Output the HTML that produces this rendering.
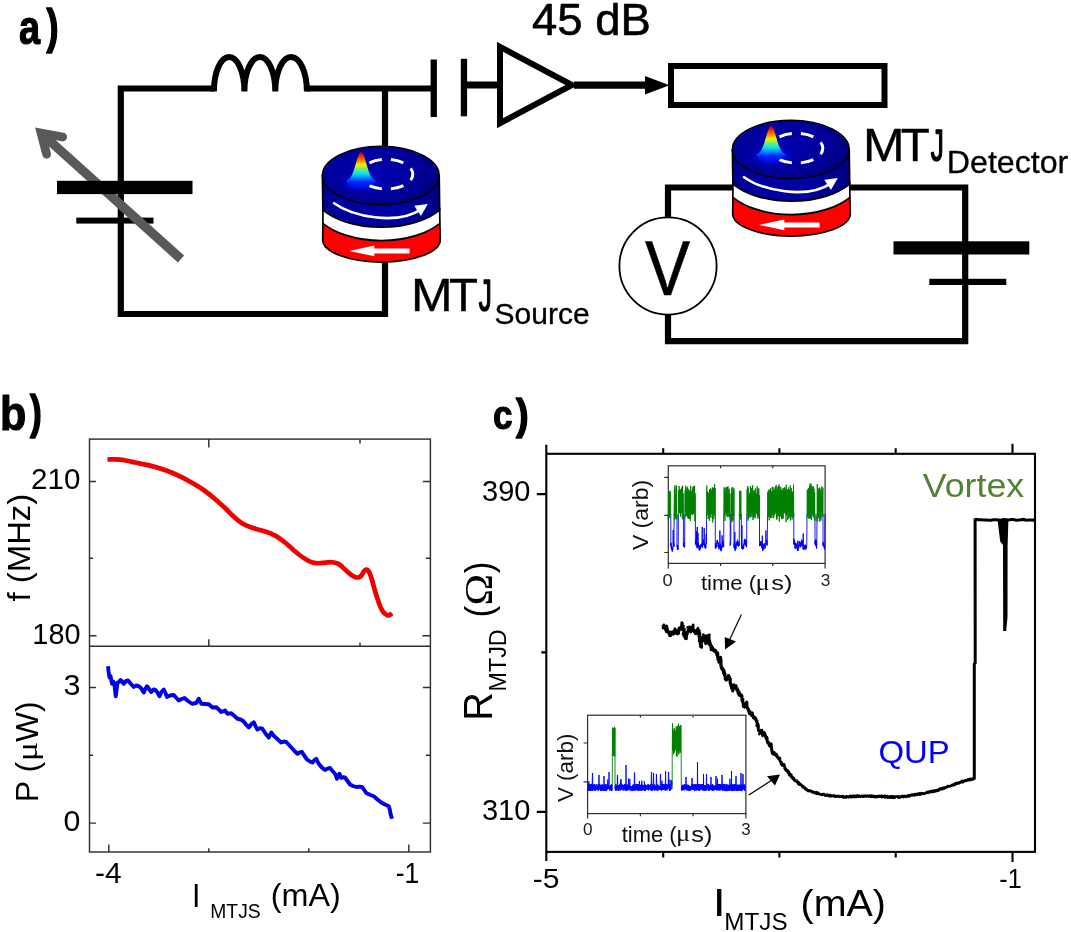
<!DOCTYPE html>
<html><head><meta charset="utf-8"><title>Figure</title>
<style>
html,body{margin:0;padding:0;background:#fff;}
body{width:1071px;height:932px;overflow:hidden;font-family:"Liberation Sans",sans-serif;}
svg{display:block;will-change:transform;}
</style></head><body>
<svg width="1071" height="932" viewBox="0 0 1071 932">
<rect width="1071" height="932" fill="#fff"/>
<defs>
<linearGradient id="jet" gradientUnits="userSpaceOnUse" x1="0" y1="152" x2="0" y2="188">
<stop offset="0" stop-color="#b00000"/><stop offset="0.083" stop-color="#f01000"/><stop offset="0.222" stop-color="#ff8000"/>
<stop offset="0.361" stop-color="#f0f000"/><stop offset="0.486" stop-color="#60f080"/><stop offset="0.611" stop-color="#00e0f0"/>
<stop offset="0.722" stop-color="#0080ff"/><stop offset="0.833" stop-color="#0028ff"/><stop offset="1" stop-color="#0010e0" stop-opacity="0"/>
</linearGradient>
<radialGradient id="glow" cx="0.5" cy="0.5" r="0.5">
<stop offset="0" stop-color="#0030ff" stop-opacity="1"/><stop offset="0.4" stop-color="#0018f8" stop-opacity="0.85"/><stop offset="0.75" stop-color="#0008d8" stop-opacity="0.4"/><stop offset="1" stop-color="#0000b0" stop-opacity="0"/>
</radialGradient>
<radialGradient id="topg" cx="0.42" cy="0.45" r="0.62">
<stop offset="0" stop-color="#0000ac"/><stop offset="0.6" stop-color="#00009e"/><stop offset="1" stop-color="#00007c"/>
</radialGradient>
<linearGradient id="sideg" x1="0" y1="0" x2="1" y2="0">
<stop offset="0" stop-color="#000088"/><stop offset="0.12" stop-color="#0000a0"/><stop offset="0.6" stop-color="#0000a4"/><stop offset="0.92" stop-color="#000090"/><stop offset="1" stop-color="#000078"/>
</linearGradient>
<filter id="soft" x="-20%" y="-20%" width="140%" height="140%"><feGaussianBlur stdDeviation="0.55"/></filter>
<g id="mtj">
<path d="M322.9,224 L322.7,239.8 A58.8,22.3 0 0 0 440.3,239.8 L439.9,224 Z" fill="#ff0000" stroke="#000" stroke-width="1.7"/>
<path d="M322.9,209 L322.9,223.3 A70.9,39.75 0 0 0 439.9,223.3 L439.7,209 Z" fill="#fff" stroke="#000" stroke-width="1.7"/>
<path d="M322.4,175.5 L322.9,210.05 A70.9,39.75 0 0 0 439.7,210.05 L439.2,175.5 Z" fill="url(#sideg)" stroke="#000" stroke-width="1.7"/>
<ellipse cx="380.8" cy="175.5" rx="58.4" ry="29.2" fill="url(#topg)" stroke="#000" stroke-width="1.5"/>
<ellipse cx="361.8" cy="182.3" rx="24" ry="11.5" fill="url(#glow)"/>
<ellipse cx="386.4" cy="174.2" rx="26.4" ry="14.9" fill="none" stroke="#fff" stroke-width="3" stroke-dasharray="12.8 9.25" stroke-dashoffset="6.4" pathLength="132.3"/>
<path d="M346.10,180.55 L346.73,180.36 L347.35,180.12 L347.98,179.80 L348.60,179.39 L349.23,178.86 L349.85,178.21 L350.48,177.40 L351.10,176.44 L351.73,175.29 L352.35,173.96 L352.98,172.44 L353.60,170.75 L354.23,168.90 L354.85,166.92 L355.48,164.85 L356.10,162.73 L356.73,160.64 L357.35,158.64 L357.98,156.79 L358.60,155.17 L359.23,153.83 L359.85,152.83 L360.48,152.21 L361.10,152.00 L361.73,152.21 L362.35,152.83 L362.98,153.83 L363.60,155.17 L364.23,156.79 L364.85,158.64 L365.48,160.64 L366.10,162.73 L366.73,164.85 L367.35,166.92 L367.98,168.90 L368.60,170.75 L369.23,172.44 L369.85,173.96 L370.48,175.29 L371.10,176.44 L371.73,177.40 L372.35,178.21 L372.98,178.86 L373.60,179.39 L374.23,179.80 L374.85,180.12 L375.48,180.36 L376.10,180.55 C371.1,190.0 351.1,190.0 346.10,180.55 Z" fill="url(#jet)" filter="url(#soft)"/>
<path d="M334.1,203.2 C352,216 396,226 421,209.3" fill="none" stroke="#fff" stroke-width="2.6" stroke-linecap="round"/>
<path d="M427.8,204 L414.3,205.8 L420.9,216 Z" fill="#fff"/>
<path d="M349.1,250.9 L374.3,245.6 L374.3,248.4 L409.6,248.4 L409.6,253.5 L374.3,253.5 L374.3,256.2 Z" fill="#fff"/>
</g>
</defs>
<path d="M214,88.5 L120.8,88.5 L120.8,314 L385,314 L385,258" stroke="#000" fill="none" stroke-width="6.2"/>
<path d="M307,88.5 L431,88.5 M385,88.5 L385,150" stroke="#000" fill="none" stroke-width="6.2"/>
<path d="M213.9,91.4 A15.25,34.4 0 0 1 244.4,91.4 A15.45,34.4 0 0 1 275.3,91.4 A15.80,34.4 0 0 1 306.9,91.4" stroke="#000" fill="none" stroke-width="6" stroke-linejoin="bevel"/>
<rect x="76.3" y="217.6" width="77.2" height="6" fill="#000"/>
<path d="M41.1,133.1 L181,259" stroke="#595959" stroke-width="9.3" fill="none"/>
<path d="M62.7,137 L41.1,133.1 L46.6,154.2" stroke="#595959" stroke-width="8.8" fill="none" stroke-linecap="round" stroke-linejoin="miter" stroke-miterlimit="10"/>
<rect x="57" y="180.8" width="135.5" height="13.3" fill="#000"/>
<rect x="430.6" y="59.5" width="6.3" height="57.5" fill="#000"/>
<rect x="460.8" y="58.8" width="6.3" height="57.5" fill="#000"/>
<path d="M467,85 L500,85" stroke="#000" fill="none" stroke-width="6.8"/>
<path d="M500,46.8 L572,85 L500,123.2 Z" stroke="#000" fill="none" stroke-width="6" stroke-linejoin="miter"/>
<path d="M574,85.2 L650,85.2" stroke="#000" fill="none" stroke-width="7.2"/>
<path d="M645,76 L669.5,85.3 L645,94.6 Z" fill="#000"/>
<rect x="671" y="66" width="213.5" height="39" stroke="#000" fill="none" stroke-width="6"/>
<path d="M736,187.5 L668,187.5 L668,341.2 L965.2,341.2 L965.2,187.5 L846,187.5" stroke="#000" fill="none" stroke-width="6.2"/>
<circle cx="668" cy="266" r="48.6" fill="#fff" stroke="#000" stroke-width="1.8"/>
<rect x="893.5" y="241.3" width="135.8" height="13.2" fill="#000"/>
<rect x="929.3" y="278.8" width="77" height="6.2" fill="#000"/>
<use href="#mtj"/>
<use href="#mtj" transform="translate(410,-26)"/>
<text transform="matrix(0.37934 0 0 0.47306 19.01 44.38)" font-family="Liberation Sans" font-weight="bold" font-size="100" fill="#000"  stroke="#000" stroke-width="2.58" stroke-linejoin="round">a</text>
<text transform="matrix(0.36071 0 0 0.47185 46.61 43.21)" font-family="Liberation Sans" font-weight="bold" font-size="100" fill="#000"  stroke="#000" stroke-width="3.36" stroke-linejoin="round">)</text>
<text transform="matrix(0.45472 0 0 0.45306 532.08 35.15)" font-family="Liberation Sans" font-weight="normal" font-size="100" fill="#000"  stroke="#000" stroke-width="1.32" stroke-linejoin="round">45 dB</text>
<text transform="matrix(0.49888 0 0 0.46255 411.08 311.30)" font-family="Liberation Sans" font-weight="normal" font-size="100" fill="#000"  stroke="#000" stroke-width="0.83" stroke-linejoin="round">M</text>
<text transform="matrix(0.47434 0 0 0.46255 448.93 311.30)" font-family="Liberation Sans" font-weight="normal" font-size="100" fill="#000"  stroke="#000" stroke-width="0.85" stroke-linejoin="round">T</text>
<text transform="matrix(0.26098 0 0 0.44875 478.86 310.80)" font-family="Liberation Sans" font-weight="normal" font-size="100" fill="#000"  stroke="#000" stroke-width="3.66" stroke-linejoin="round">J</text>
<text transform="matrix(0.49888 0 0 0.46255 862.88 161.10)" font-family="Liberation Sans" font-weight="normal" font-size="100" fill="#000"  stroke="#000" stroke-width="0.83" stroke-linejoin="round">M</text>
<text transform="matrix(0.47434 0 0 0.46255 900.73 161.10)" font-family="Liberation Sans" font-weight="normal" font-size="100" fill="#000"  stroke="#000" stroke-width="0.85" stroke-linejoin="round">T</text>
<text transform="matrix(0.26098 0 0 0.44875 930.66 160.60)" font-family="Liberation Sans" font-weight="normal" font-size="100" fill="#000"  stroke="#000" stroke-width="3.66" stroke-linejoin="round">J</text>
<text transform="matrix(0.30000 0 0 0.30389 494.60 323.85)" font-family="Liberation Sans" font-weight="normal" font-size="100" fill="#000"  stroke="#000" stroke-width="0.99" stroke-linejoin="round">Source</text>
<text transform="matrix(0.32152 0 0 0.31111 946.80 173.14)" font-family="Liberation Sans" font-weight="normal" font-size="100" fill="#000"  stroke="#000" stroke-width="0.95" stroke-linejoin="round">Detector</text>
<text transform="matrix(0.67681 0 0 0.77382 644.91 294.75)" font-family="Liberation Sans" font-weight="normal" font-size="100" fill="#000"  stroke="#000" stroke-width="0.69" stroke-linejoin="round">V</text>
<g stroke="#303030" stroke-width="1.45" fill="none">
<rect x="89.5" y="439.1" width="340.9" height="412.9"/>
<path d="M89.5,646.2 L430.4,646.2"/>
<path d="M89.5,481.4 h6.5 M430.4,481.4 h-7.5 M89.5,558.3 h3.5 M430.4,558.3 h-4.5 M89.5,635.8 h7 M430.4,635.8 h-8 M89.5,687.4 h6.5 M430.4,687.4 h-7.5 M89.5,755.2 h3.5 M430.4,755.2 h-4.5 M89.5,823.1 h6.5 M430.4,823.1 h-7.5 M208.8,439.1 v8.5 M360,439.1 v4.5 M208.8,646.2 v-7 M360,646.2 v-3.5 M108.8,852.0 v-7.5 M208.8,852.0 v-3.8 M308.8,852.0 v-3.8 M408.8,852.0 v-7.5"/>
</g>
<path d="M107.50,459.30 C108.42,459.30 110.92,459.25 113.00,459.30 C115.08,459.35 117.67,459.35 120.00,459.60 C122.33,459.85 124.50,460.32 127.00,460.80 C129.50,461.28 131.17,461.70 135.00,462.50 C138.83,463.30 145.00,464.35 150.00,465.60 C155.00,466.85 160.00,468.22 165.00,470.00 C170.00,471.78 175.00,473.88 180.00,476.30 C185.00,478.72 190.83,482.05 195.00,484.50 C199.17,486.95 201.67,488.58 205.00,491.00 C208.33,493.42 211.67,496.17 215.00,499.00 C218.33,501.83 222.08,505.25 225.00,508.00 C227.92,510.75 230.33,513.45 232.50,515.50 C234.67,517.55 236.12,518.85 238.00,520.30 C239.88,521.75 241.75,523.08 243.75,524.20 C245.75,525.32 247.62,526.12 250.00,527.00 C252.38,527.88 255.08,528.62 258.00,529.50 C260.92,530.38 265.00,531.45 267.50,532.30 C270.00,533.15 271.33,533.82 273.00,534.60 C274.67,535.38 275.50,535.68 277.50,537.00 C279.50,538.32 282.92,540.87 285.00,542.50 C287.08,544.13 288.33,545.33 290.00,546.80 C291.67,548.27 293.42,549.93 295.00,551.30 C296.58,552.67 298.04,553.88 299.50,555.00 C300.96,556.12 302.33,557.07 303.75,558.00 C305.17,558.93 306.54,559.87 308.00,560.60 C309.46,561.33 311.17,561.98 312.50,562.40 C313.83,562.82 314.75,562.97 316.00,563.10 C317.25,563.23 318.67,563.25 320.00,563.20 C321.33,563.15 322.75,562.93 324.00,562.80 C325.25,562.67 326.33,562.50 327.50,562.40 C328.67,562.30 329.96,562.18 331.00,562.20 C332.04,562.22 332.75,562.32 333.75,562.50 C334.75,562.68 335.96,562.88 337.00,563.30 C338.04,563.72 339.00,564.30 340.00,565.00 C341.00,565.70 341.96,566.57 343.00,567.50 C344.04,568.43 345.17,569.60 346.25,570.60 C347.33,571.60 348.46,572.63 349.50,573.50 C350.54,574.37 351.50,575.18 352.50,575.80 C353.50,576.42 354.46,576.93 355.50,577.20 C356.54,577.47 357.83,577.60 358.75,577.40 C359.67,577.20 360.32,576.70 361.00,576.00 C361.68,575.30 362.25,574.07 362.80,573.20 C363.35,572.33 363.77,571.40 364.30,570.80 C364.83,570.20 365.45,569.73 366.00,569.60 C366.55,569.47 367.10,569.60 367.60,570.00 C368.10,570.40 368.52,571.12 369.00,572.00 C369.48,572.88 370.00,573.97 370.50,575.30 C371.00,576.63 371.46,578.17 372.00,580.00 C372.54,581.83 373.17,584.22 373.75,586.30 C374.33,588.38 374.88,590.42 375.50,592.50 C376.12,594.58 376.87,596.88 377.50,598.80 C378.13,600.72 378.68,602.37 379.30,604.00 C379.93,605.63 380.63,607.33 381.25,608.60 C381.87,609.87 382.38,610.73 383.00,611.60 C383.62,612.47 384.33,613.23 385.00,613.80 C385.67,614.37 386.38,614.73 387.00,615.00 C387.62,615.27 388.20,615.47 388.75,615.40 C389.30,615.33 389.76,614.97 390.30,614.60 C390.84,614.23 391.72,613.43 392.00,613.20" fill="none" stroke="#f00000" stroke-width="4.7" stroke-linejoin="round" stroke-linecap="butt"/>
<path d="M108.00,666.25 L108.60,672.00 L109.50,677.50 L110.50,676.00 L112.00,683.75 L113.30,681.50 L114.50,685.00 L115.75,696.25 L116.60,690.00 L117.50,682.50 L119.00,682.00 L120.50,680.00 L122.00,681.50 L123.75,683.75 L126.00,681.00 L128.00,680.50 L131.00,684.00 L133.75,687.00 L136.00,685.50 L138.75,686.25 L141.00,688.00 L143.75,692.50 L145.50,688.50 L147.00,686.25 L149.00,689.00 L151.25,692.00 L153.50,689.50 L155.50,690.00 L157.50,692.50 L159.50,696.25 L161.50,692.00 L163.75,689.50 L165.50,693.00 L167.00,697.00 L170.00,695.50 L173.75,695.00 L176.00,697.50 L178.75,700.50 L181.50,699.00 L184.50,698.00 L188.00,701.00 L192.00,703.75 L196.25,703.00 L198.75,698.75 L201.25,703.75 L205.00,704.00 L208.75,704.20 L212.50,707.50 L216.25,707.20 L221.25,712.00 L225.00,710.50 L227.50,713.75 L231.25,713.30 L234.50,716.00 L237.50,718.75 L240.50,719.50 L243.25,721.00 L246.00,724.50 L248.75,727.50 L251.50,724.00 L253.75,722.20 L255.50,726.00 L257.20,729.50 L260.00,728.20 L262.30,728.75 L265.50,733.50 L268.75,737.50 L271.25,732.50 L273.50,735.50 L276.25,738.00 L279.00,740.50 L281.25,742.50 L284.00,741.50 L286.25,742.00 L289.50,745.50 L292.50,748.75 L295.00,751.50 L297.50,753.75 L300.00,752.30 L302.00,752.00 L304.50,756.00 L307.00,759.50 L310.00,761.50 L312.50,762.50 L314.50,760.00 L316.25,758.75 L318.00,762.50 L320.00,765.50 L322.50,768.00 L325.00,770.00 L327.50,768.60 L330.00,768.00 L332.50,771.00 L335.00,773.75 L336.20,776.50 L337.00,778.75 L338.30,776.00 L339.50,773.75 L340.50,776.50 L341.25,778.00 L343.00,777.30 L345.00,777.50 L347.50,781.00 L350.00,784.50 L353.00,786.00 L356.25,787.00 L359.00,786.60 L362.00,787.00 L364.30,790.00 L366.25,793.00 L370.00,794.80 L373.75,796.25 L377.50,799.50 L381.25,802.50 L385.00,804.50 L388.75,806.25 L389.80,809.50 L390.50,813.75 L391.30,816.50 L392.00,818.75" fill="none" stroke="#0000e6" stroke-width="3.9" stroke-linejoin="round"/>
<text transform="matrix(0.42970 0 0 0.47755 0.06 429.57)" font-family="Liberation Sans" font-weight="bold" font-size="100" fill="#000"  stroke="#000" stroke-width="2.42" stroke-linejoin="round">b</text>
<text transform="matrix(0.35357 0 0 0.46971 30.11 427.95)" font-family="Liberation Sans" font-weight="bold" font-size="100" fill="#000"  stroke="#000" stroke-width="3.40" stroke-linejoin="round">)</text>
<text transform="matrix(0.29557 0 0 0.29117 31.12 488.81)" font-family="Liberation Sans" font-weight="normal" font-size="100" fill="#000" >210</text>
<text transform="matrix(0.28875 0 0 0.29258 32.33 643.51)" font-family="Liberation Sans" font-weight="normal" font-size="100" fill="#000" >180</text>
<text transform="matrix(0.30526 0 0 0.28975 63.56 694.81)" font-family="Liberation Sans" font-weight="normal" font-size="100" fill="#000" >3</text>
<text transform="matrix(0.30366 0 0 0.28834 63.49 830.81)" font-family="Liberation Sans" font-weight="normal" font-size="100" fill="#000" >0</text>
<text transform="matrix(0.29816 0 0 0.29382 94.96 882.50)" font-family="Liberation Sans" font-weight="normal" font-size="100" fill="#000" >-4</text>
<text transform="matrix(0.26415 0 0 0.29382 395.81 882.50)" font-family="Liberation Sans" font-weight="normal" font-size="100" fill="#000" >-1</text>
<text transform="matrix(0.30270 0 0 0.32873 192.00 907.00)" font-family="Liberation Sans" font-weight="normal" font-size="100" fill="#000" >I</text>
<text transform="matrix(0.19295 0 0 0.19364 210.31 918.01)" font-family="Liberation Sans" font-weight="normal" font-size="100" fill="#000" >MTJS</text>
<text transform="matrix(0.32353 0 0 0.31635 270.78 906.44)" font-family="Liberation Sans" font-weight="normal" font-size="100" fill="#000" >(mA)</text>
<text transform="matrix(0 -0.32844 0.31314 0 29.50 601.39)" font-family="Liberation Sans" font-weight="normal" font-size="100" fill="#000">f (MHz)</text>
<text transform="matrix(0 -0.32137 0.31421 0 37.78 802.25)" font-family="Liberation Sans" font-weight="normal" font-size="100" fill="#000">P (</text>
<text transform="matrix(0 -0.36145 0.28889 0 37.29 761.19)" font-family="Liberation Serif" font-weight="normal" font-size="100" fill="#000">μ</text>
<text transform="matrix(0 -0.31653 0.31421 0 37.78 741.96)" font-family="Liberation Sans" font-weight="normal" font-size="100" fill="#000">W)</text>
<g stroke="#000" stroke-width="2.1" fill="none">
<rect x="546.3" y="453.8" width="488.70000000000005" height="398.09999999999997"/>
<path d="M546.3,453.8 v-9 M546.3,851.9 v9 M1012.5,453.8 v-10 M1012.5,851.9 v10 M663.2,453.8 v-5.5 M663.2,851.9 v5.5 M779.4,453.8 v-5.5 M779.4,851.9 v5.5 M895.7,453.8 v-5.5 M895.7,851.9 v5.5 M546.3,494.1 h-9.5 M546.3,811.9 h-9.5 M546.3,652.4 h-5"/>
</g>
<path d="M662.2,626.8 L663.2,626.0 L663.4,627.5 L663.0,628.0 L663.3,627.2 L663.8,624.9 L664.9,629.0 L664.6,625.7 L665.7,630.5 L665.8,627.6 L666.8,625.9 L666.8,627.7 L665.8,627.1 L666.3,631.7 L666.3,630.7 L667.4,629.8 L667.4,628.4 L666.8,629.6 L668.3,631.3 L668.0,632.6 L668.5,631.2 L669.5,634.0 L668.9,633.6 L669.7,635.7 L670.4,632.5 L671.2,631.9 L670.6,636.0 L670.3,634.0 L670.4,634.7 L671.9,633.8 L672.4,631.8 L672.3,633.1 L672.4,631.9 L673.1,634.4 L672.7,632.4 L672.2,632.2 L673.8,633.9 L674.6,629.6 L674.4,631.9 L674.2,630.6 L675.0,628.7 L675.3,632.9 L675.9,630.0 L676.8,634.0 L676.7,631.7 L677.9,633.9 L678.7,633.4 L678.1,630.3 L678.5,632.8 L679.9,628.0 L678.9,628.1 L679.3,629.2 L680.3,627.5 L679.5,628.0 L680.4,628.5 L681.7,628.9 L681.1,628.1 L681.7,624.3 L682.3,628.3 L682.5,628.0 L681.9,625.3 L681.6,626.3 L681.8,622.5 L682.2,623.5 L682.5,623.3 L682.0,624.4 L682.3,626.1 L682.2,629.6 L683.4,625.8 L682.8,627.4 L683.1,626.5 L684.1,632.2 L683.5,629.6 L682.9,627.8 L683.4,629.2 L684.4,629.0 L683.0,634.2 L684.1,629.9 L684.2,629.6 L684.3,635.8 L685.0,634.6 L684.0,633.1 L683.9,636.0 L684.7,636.5 L684.4,633.7 L685.4,638.7 L685.5,638.1 L685.6,638.2 L684.6,637.3 L684.9,634.9 L684.5,635.9 L685.0,638.0 L686.4,636.0 L686.5,638.8 L686.6,634.7 L685.4,633.4 L685.5,632.8 L686.4,636.5 L686.9,633.6 L686.7,635.0 L685.8,633.8 L687.4,634.0 L687.2,631.8 L686.3,633.2 L686.7,632.8 L688.2,630.0 L687.5,633.0 L688.4,628.0 L687.6,627.5 L689.3,631.1 L688.3,630.9 L690.2,630.1 L689.4,629.7 L689.4,626.8 L691.3,630.9 L690.8,632.2 L690.9,631.4 L691.8,627.1 L691.0,627.2 L691.3,628.5 L691.5,627.1 L691.5,629.7 L692.2,626.5 L692.9,628.8 L692.7,629.4 L693.0,627.5 L693.2,624.9 L693.2,626.3 L692.6,630.4 L693.1,628.9 L694.2,629.9 L693.7,630.1 L694.3,632.1 L693.7,631.2 L694.1,630.0 L695.3,631.8 L695.1,633.7 L695.9,632.3 L695.7,632.3 L695.7,633.0 L695.9,631.7 L696.2,633.8 L696.8,633.0 L697.5,628.9 L697.1,632.7 L697.9,628.2 L696.9,630.4 L697.1,629.6 L697.4,632.5 L698.9,634.2 L698.1,633.5 L699.3,630.5 L699.8,635.9 L698.7,636.2 L699.1,633.9 L700.2,636.4 L698.8,634.5 L699.5,634.4 L699.0,634.7 L700.0,633.4 L699.8,636.4 L698.9,636.2 L700.1,637.8 L699.2,641.1 L700.6,641.4 L699.4,637.7 L699.4,641.2 L699.9,637.8 L700.3,642.9 L701.1,639.5 L700.0,643.9 L700.9,643.1 L700.1,639.7 L701.3,642.4 L700.3,645.9 L701.4,645.6 L700.5,646.4 L700.6,646.9 L701.4,644.2 L701.7,647.3 L701.3,642.1 L701.8,642.3 L701.2,641.4 L701.2,641.2 L701.7,641.4 L702.6,640.8 L702.2,639.7 L702.1,638.3 L702.0,637.9 L702.9,640.6 L702.1,639.7 L703.5,637.1 L703.4,638.6 L703.0,640.6 L703.0,638.2 L703.7,640.6 L703.3,639.3 L704.2,637.6 L703.8,635.5 L703.4,634.6 L703.6,638.7 L704.0,635.7 L703.9,640.2 L705.5,639.7 L704.6,637.6 L704.8,639.3 L704.7,639.7 L705.2,643.1 L706.8,641.0 L705.7,643.8 L706.2,640.5 L705.7,640.2 L706.7,640.4 L706.4,640.0 L706.2,638.0 L706.5,638.4 L706.5,635.6 L707.1,636.4 L707.9,637.8 L708.4,638.1 L708.6,639.1 L708.2,635.4 L709.4,634.8 L709.0,638.2 L707.8,639.8 L709.4,639.0 L709.2,640.6 L708.3,639.3 L709.0,641.7 L709.6,642.1 L709.3,643.0 L709.6,642.2 L708.8,638.7 L708.7,641.2 L708.8,644.5 L709.7,643.7 L709.9,644.4 L709.7,640.8 L710.4,645.7 L709.9,644.9 L710.3,642.5 L710.5,644.1 L709.4,644.6 L710.7,644.7 L711.0,649.8 L710.9,646.6 L711.1,648.9 L711.9,648.9 L712.0,646.0 L711.6,648.0 L712.6,648.5 L712.7,647.7 L712.5,649.0 L713.5,651.0 L713.9,649.7 L714.0,650.8 L714.5,649.6 L715.5,650.1 L716.2,653.2 L715.3,651.7 L716.6,654.1 L716.5,651.7 L716.5,654.8 L716.9,653.7 L716.9,654.0 L717.9,652.9 L717.9,654.8 L718.1,656.1 L717.4,657.3 L717.8,654.3 L717.3,656.6 L717.9,656.3 L717.7,656.9 L718.0,659.4 L717.7,659.4 L718.8,657.4 L719.0,660.2 L719.1,658.9 L718.6,659.8 L719.5,661.0 L718.8,660.8 L718.8,659.7 L718.7,662.3 L719.1,662.2 L719.2,659.1 L719.6,658.3 L719.5,660.8 L720.5,659.6 L720.5,659.5 L720.9,658.5 L720.7,657.0 L720.7,659.0 L720.8,660.3 L720.3,658.4 L721.1,659.2 L720.6,660.5 L720.5,662.6 L721.4,661.1 L721.0,661.8 L721.0,662.6 L720.5,662.2 L720.6,665.6 L721.1,663.3 L721.6,666.9 L721.1,663.9 L720.8,664.2 L721.1,664.7 L721.0,665.8 L721.5,668.8 L721.7,667.4 L721.4,668.3 L721.4,668.0 L721.1,668.2 L722.6,667.9 L722.4,670.2 L723.2,668.9 L722.7,669.5 L723.1,670.7 L724.0,672.8 L724.1,670.0 L723.3,673.2 L724.6,672.7 L724.3,671.3 L724.3,675.4 L724.9,675.6 L725.2,673.7 L724.4,673.8 L725.0,676.3 L725.6,677.0 L725.4,677.6 L725.3,677.2 L725.0,678.6 L725.4,679.5 L726.0,677.5 L725.6,677.7 L726.3,679.9 L725.8,677.8 L726.5,680.3 L726.5,679.3 L727.0,678.0 L726.8,679.3 L727.9,679.5 L728.0,678.4 L727.5,677.0 L728.7,678.5 L728.2,675.4 L728.8,677.6 L729.0,675.6 L729.4,678.8 L729.0,675.7 L729.3,677.7 L729.8,677.3 L730.1,680.0 L729.9,678.3 L730.6,679.2 L730.5,679.4 L729.9,682.0 L730.1,683.2 L730.5,680.6 L730.2,682.0 L730.9,684.6 L730.4,682.8 L730.6,685.6 L730.6,682.4 L730.6,684.2 L731.7,686.6 L731.7,687.5 L732.0,685.3 L731.3,688.2 L732.1,685.0 L732.1,686.8 L731.9,687.1 L731.8,686.2 L732.1,688.0 L733.0,687.6 L733.2,688.3 L732.6,691.2 L733.3,690.1 L732.4,689.8 L732.9,691.1 L732.8,688.4 L733.7,686.6 L733.2,689.2 L733.7,685.6 L732.9,685.3 L734.2,685.5 L734.2,687.5 L733.9,684.5 L734.9,686.2 L734.4,687.0 L734.7,685.6 L734.6,687.9 L736.0,687.8 L736.3,685.7 L735.7,687.9 L736.8,690.2 L736.3,687.8 L736.5,689.2 L737.4,688.4 L737.4,691.0 L737.7,691.6 L737.6,690.2 L737.5,690.7 L738.2,690.0 L737.9,693.1 L738.2,690.7 L738.3,693.1 L739.0,695.2 L739.9,695.6 L739.5,692.3 L739.6,694.4 L740.6,694.6 L740.3,694.8 L741.0,696.2 L741.5,697.3 L741.6,694.8 L742.1,695.9 L741.9,696.6 L742.2,696.4 L741.7,697.0 L741.7,700.0 L742.3,698.3 L742.1,701.4 L742.4,698.8 L742.8,700.9 L743.1,699.2 L742.6,702.5 L743.1,703.3 L742.3,701.3 L742.5,701.3 L743.6,703.3 L743.6,702.9 L743.7,703.7 L743.0,705.5 L744.0,703.2 L743.7,705.8 L743.3,705.2 L743.3,705.0 L743.6,707.0 L744.2,705.9 L743.5,706.9 L744.4,706.7 L744.1,706.4 L744.9,707.3 L744.2,705.1 L744.8,706.5 L745.2,704.2 L744.8,706.2 L745.3,704.1 L745.4,706.4 L745.7,704.5 L746.0,703.5 L746.9,705.4 L746.5,701.8 L747.1,702.3 L746.3,705.5 L746.9,705.6 L747.0,706.3 L747.2,703.9 L746.7,705.9 L747.6,707.8 L747.0,707.0 L747.4,707.0 L747.3,706.6 L747.8,709.7 L747.4,708.4 L748.4,710.8 L747.7,707.9 L748.7,711.8 L748.3,708.6 L748.9,710.4 L749.0,711.8 L749.0,710.4 L749.3,711.0 L749.2,713.8 L750.0,711.4 L749.7,712.6 L750.4,712.9 L750.4,712.6 L751.5,715.6 L751.1,714.5 L752.3,712.8 L752.6,713.5 L752.6,715.7 L752.9,715.1 L752.9,716.6 L753.2,717.2 L753.4,716.8 L753.3,717.9 L754.2,716.7 L754.8,719.3 L754.8,717.3 L755.1,717.3 L755.1,719.0 L755.2,719.5 L755.8,718.3 L756.1,718.9 L756.4,722.2 L756.3,719.7 L756.4,721.4 L757.1,720.9 L757.2,724.8 L757.2,724.5 L756.7,725.6 L757.2,725.9 L757.8,723.2 L757.8,726.7 L757.1,724.8 L758.1,724.5 L758.4,725.4 L758.5,725.3 L758.2,728.9 L758.0,726.7 L758.5,727.4 L758.1,727.3 L758.4,730.7 L759.2,731.0 L758.7,731.0 L758.8,730.4 L759.6,730.2 L760.0,731.4 L759.8,733.1 L759.4,734.0 L760.1,732.2 L760.6,731.4 L761.2,732.0 L761.0,732.2 L761.4,730.0 L761.9,730.1 L762.1,731.2 L762.0,733.8 L762.1,733.3 L762.0,731.8 L761.9,732.7 L762.6,734.0 L762.6,735.8 L762.4,734.3 L763.0,734.1 L762.6,735.6 L762.9,735.1 L763.2,735.4 L763.7,733.8 L764.0,734.2 L763.7,735.2 L764.1,732.4 L764.1,733.4 L765.0,734.3 L764.8,733.2 L764.6,734.8 L765.3,734.4 L765.5,735.1 L765.9,736.4 L765.5,737.4 L765.5,736.7 L766.0,736.3 L765.9,738.3 L766.0,738.1 L767.0,737.3 L766.5,739.2 L767.0,739.7 L767.4,738.8 L767.1,739.6 L767.1,741.8 L767.9,741.7 L767.4,742.6 L768.2,741.9 L768.4,742.3 L768.2,741.7 L768.4,741.9 L768.7,744.5 L769.3,745.3 L769.5,744.0 L769.6,744.9 L770.0,745.6 L769.8,746.4 L770.7,744.7 L770.8,743.5 L770.5,743.7 L771.2,745.3 L771.3,743.9 L771.5,744.4 L771.0,746.6 L771.4,746.4 L771.5,747.7 L771.4,747.7 L771.7,748.2 L771.6,748.3 L771.8,747.4 L771.5,748.8 L771.5,750.2 L771.6,747.9 L771.7,751.1 L772.0,749.2 L771.8,749.3 L772.4,751.6 L772.5,752.3 L772.0,752.3 L772.4,753.5 L773.2,753.9 L772.9,754.1 L774.1,754.6 L773.8,752.6 L774.2,752.4 L775.3,754.9 L775.5,755.3 L775.8,754.0 L775.6,753.8 L776.6,754.4 L776.5,755.4 L776.6,755.3 L777.1,757.0 L777.4,756.2 L778.2,757.1 L778.4,757.8 L777.9,757.6 L778.6,759.0 L778.8,759.2 L779.2,758.1 L779.8,758.0 L780.0,758.6 L779.6,759.1 L780.5,761.9 L780.0,760.9 L780.7,762.2 L780.6,761.8 L781.0,763.2 L781.1,764.0 L781.4,762.3 L782.0,763.6 L781.6,764.4 L782.0,765.2 L782.8,765.5 L783.1,764.6 L783.2,765.0 L784.0,764.4 L784.3,764.6 L784.0,765.7 L784.8,766.8 L784.6,768.4 L784.7,767.5 L785.2,768.8 L785.6,768.8 L785.4,768.3 L785.5,770.2 L786.2,770.3 L786.0,769.8 L786.8,770.6 L786.5,770.6 L787.5,770.2 L787.2,770.7 L788.0,772.7 L787.8,771.0 L788.2,771.8 L788.7,771.6 L788.8,772.1 L789.7,774.1 L789.2,775.1 L789.5,773.8 L790.6,775.4 L790.7,774.7 L790.5,775.7 L790.7,774.7 L791.2,774.6 L791.5,777.2 L792.1,776.8 L792.3,777.0 L792.2,777.8 L792.8,778.6 L793.6,778.0 L793.6,779.3 L793.8,778.1 L794.4,780.4 L794.8,780.2 L795.3,780.5 L795.4,780.2 L795.5,781.0 L795.6,780.8 L796.7,781.9 L796.9,780.8 L797.1,781.7 L797.7,781.8 L798.2,783.7 L798.1,783.1 L799.1,782.6 L799.2,784.6 L799.2,783.6 L799.9,784.1 L800.5,784.1 L800.5,784.5 L801.0,785.0 L801.3,785.2 L801.8,785.3 L802.0,786.3 L802.2,786.2 L802.6,786.6 L802.8,787.2 L803.3,786.3 L803.6,787.0 L803.8,787.4 L804.4,788.1 L804.7,787.7 L805.1,788.7 L805.7,788.6 L805.8,789.3 L806.3,788.8 L806.6,789.8 L807.2,789.9 L807.5,790.1 L807.8,790.8 L808.3,790.6 L809.0,791.0 L809.3,790.4 L809.8,790.4 L810.3,790.9 L810.8,790.9 L811.0,791.1 L811.5,791.2 L811.8,792.1 L812.4,791.6 L812.8,792.0 L813.3,792.3 L813.9,792.1 L814.5,792.9 L814.6,793.0 L815.4,793.0 L815.5,793.2 L816.2,792.2 L816.4,793.6 L817.1,792.7 L817.3,792.7 L817.9,793.7 L818.4,792.9 L819.1,794.0 L819.2,794.2 L819.9,794.2 L820.4,794.4 L820.9,794.5 L821.1,794.4 L821.7,794.6 L822.1,794.9 L822.6,794.1 L823.0,794.1 L823.5,794.1 L824.0,794.3 L824.5,794.9 L824.9,795.4 L825.2,795.5 L825.8,795.1 L826.4,795.6 L826.7,795.1 L827.4,794.6 L827.7,795.5 L828.0,795.5 L828.7,796.0 L829.0,796.2 L829.5,795.5 L830.2,794.9 L830.6,795.8 L830.9,796.2 L831.4,795.7 L831.9,796.1 L832.2,795.7 L832.8,795.9 L833.4,795.6 L833.9,795.8 L834.2,795.7 L834.7,796.7 L835.2,796.5 L835.6,795.8 L836.0,796.3 L836.6,796.6 L836.9,796.5 L837.7,796.3 L837.8,796.0 L838.3,795.9 L839.1,796.5 L839.5,796.8 L840.0,796.6 L840.4,796.7 L840.9,796.7 L841.3,796.2 L841.8,796.6 L842.3,796.2 L842.5,796.1 L843.2,797.4 L843.7,796.7 L844.2,797.3 L844.6,796.6 L844.9,796.9 L845.4,796.9 L846.0,797.5 L846.2,797.0 L846.7,796.3 L847.5,796.9 L848.0,796.7 L848.1,796.6 L848.8,797.3 L849.4,796.6 L849.7,796.1 L850.2,796.2 L850.5,795.9 L850.9,796.8 L851.4,797.2 L851.9,797.0 L852.4,795.8 L853.1,796.0 L853.6,795.9 L853.7,796.8 L854.5,796.9 L855.0,795.8 L855.4,796.6 L855.8,796.9 L856.2,797.0 L856.8,795.6 L857.0,796.5 L857.8,795.7 L858.1,796.6 L858.5,796.7 L859.1,795.6 L859.5,796.3 L860.0,796.4 L860.3,796.6 L860.9,796.4 L861.5,796.0 L861.8,796.5 L862.5,796.5 L862.8,795.8 L863.1,796.7 L863.8,796.5 L864.1,796.1 L864.9,796.4 L865.2,795.7 L865.6,796.4 L866.0,796.1 L866.6,796.4 L867.2,795.5 L867.3,795.5 L867.9,796.0 L868.6,796.4 L868.7,796.4 L869.5,796.5 L869.9,795.7 L870.5,796.5 L870.9,796.7 L871.2,795.6 L871.7,796.7 L872.1,796.7 L872.8,796.0 L873.2,796.6 L873.6,796.0 L874.0,796.9 L874.7,796.5 L874.8,797.0 L875.6,796.2 L876.0,797.1 L876.6,796.6 L876.9,796.7 L877.2,796.1 L877.7,796.8 L878.2,796.6 L878.7,796.5 L879.1,795.9 L879.9,796.3 L880.0,796.7 L880.8,796.0 L881.2,796.2 L881.6,795.8 L881.9,797.1 L882.7,796.4 L883.0,796.1 L883.6,796.3 L884.1,796.9 L884.5,797.2 L884.8,795.9 L885.2,796.2 L885.6,796.0 L886.3,797.2 L886.7,797.3 L887.4,796.1 L887.7,796.7 L888.0,797.5 L888.5,797.0 L889.1,797.6 L889.6,796.8 L890.0,796.5 L890.7,797.7 L890.8,796.4 L891.3,796.8 L892.1,797.6 L892.5,796.4 L892.9,797.3 L893.4,797.7 L893.6,796.5 L894.3,797.6 L894.8,796.7 L895.2,797.4 L895.5,796.8 L896.0,796.5 L896.6,796.5 L896.9,796.5 L897.6,796.3 L898.1,796.6 L898.3,797.6 L898.8,797.5 L899.6,797.4 L899.7,796.7 L900.2,797.4 L901.0,796.9 L901.3,796.4 L901.9,796.6 L902.3,796.1 L902.6,795.9 L903.3,796.6 L903.5,797.0 L904.0,796.3 L904.4,796.0 L905.2,796.1 L905.4,796.2 L905.9,796.8 L906.3,796.8 L906.7,796.6 L907.5,795.6 L907.9,795.6 L908.2,795.4 L908.7,796.5 L909.5,796.3 L909.6,795.4 L910.4,795.0 L910.8,795.2 L911.3,794.8 L911.7,795.2 L911.9,794.6 L912.7,795.3 L912.9,795.1 L913.6,794.7 L914.0,794.5 L914.3,795.3 L915.0,794.5 L915.2,794.2 L915.8,794.7 L916.2,794.2 L916.8,794.9 L917.3,794.6 L917.5,793.8 L918.2,794.2 L918.7,793.6 L919.2,793.9 L919.7,794.6 L920.0,793.3 L920.6,793.9 L921.0,793.5 L921.2,794.2 L921.7,793.2 L922.2,793.7 L922.5,793.5 L923.1,793.4 L923.4,793.6 L924.1,793.8 L924.4,793.5 L924.8,793.4 L925.1,793.5 L926.0,792.9 L926.2,792.9 L926.7,792.1 L927.3,792.3 L927.4,792.0 L927.9,792.9 L928.2,791.8 L929.0,791.9 L929.1,792.3 L929.8,792.1 L930.3,791.4 L930.8,792.1 L930.9,791.2 L931.6,791.6 L931.9,791.0 L932.4,790.9 L932.9,791.8 L933.2,791.3 L933.9,790.6 L934.4,791.6 L934.6,790.7 L935.3,790.8 L935.5,791.2 L936.1,790.3 L936.3,790.1 L936.9,790.9 L937.5,790.7 L937.9,790.4 L938.0,789.8 L938.9,790.3 L939.0,789.4 L939.6,789.2 L940.0,788.6 L940.4,789.1 L940.7,788.5 L941.5,789.2 L942.0,788.9 L942.4,789.1 L942.8,787.8 L943.2,787.9 L943.6,787.8 L944.0,788.6 L944.5,787.5 L944.9,787.6 L945.5,787.3 L945.6,787.6 L946.0,787.4 L946.8,787.2 L946.9,787.0 L947.4,786.4 L947.7,786.2 L948.2,786.4 L948.6,786.1 L949.0,786.4 L949.7,786.3 L950.0,786.2 L950.3,786.2 L950.8,785.8 L951.3,785.5 L951.6,785.1 L952.0,785.3 L952.5,785.3 L952.8,784.8 L953.6,784.5 L953.9,784.6 L954.3,785.1 L954.7,784.7 L955.1,783.5 L955.9,783.8 L956.0,783.6 L956.6,783.9 L956.9,783.0 L957.7,783.5 L957.9,782.8 L958.4,783.1 L959.0,783.2 L959.5,782.5 L959.9,782.7 L960.4,782.2 L960.8,782.3 L961.4,781.4 L961.8,781.0 L962.2,781.7 L962.5,782.1 L963.0,781.1 L963.6,781.7 L964.0,780.9 L964.3,780.9 L964.9,780.5 L965.2,780.8 L965.7,780.3 L966.3,780.9 L966.6,780.3 L967.0,780.0 L967.4,780.2 L968.0,779.4 L968.6,779.6 L969.0,780.2 L969.5,779.2 L969.7,780.1 L970.0,778.8 L970.7,779.3 L971.3,779.5 L971.6,779.7 L972.0,778.9 L972.5,778.6 L972.9,778.8 L973.3,779.2 L973.9,778.5 L974.3,778.4" fill="none" stroke="#000" stroke-width="2.7" stroke-linejoin="round"/>
<path d="M974.3,779.6 L974.3,664.0 L975.2,663.0 L975.1,519.8 L976.0,519.4 L978.5,519.7 L981.0,519.7 L983.5,519.9 L986.0,519.9 L988.5,520.2 L991.0,520.3 L993.5,519.8 L996.0,519.7 L998.5,519.9 L1001.0,520.3 L1003.5,519.6 L1006.0,519.8 L1008.5,520.1 L1011.0,519.5 L1013.5,519.6 L1016.0,520.3 L1018.5,520.1 L1021.0,519.8 L1023.5,519.4 L1026.0,520.2 L1028.5,520.0 L1031.0,520.1 L1033.5,520.3 L1034.5,519.6" fill="none" stroke="#000" stroke-width="3" stroke-linejoin="miter"/>
<path d="M997.6,520 L1008.4,520 L1007.6,546 L1007.5,617 L1006.2,631 L1003.2,631 L1003,545 L1000.2,541.5 Z" fill="#000"/>
<path d="M741.4,614.4 L729.5,640" stroke="#000" stroke-width="1.2" fill="none"/>
<path d="M725.1,649.6 L724.7,637 L736,641.4 Z" fill="#000"/>
<path d="M748.8,795 L772,780" stroke="#000" stroke-width="1.2" fill="none"/>
<path d="M780,774.5 L767,776.2 L775,785.6 Z" fill="#000"/>
<g stroke="#2e2e2e" stroke-width="1.2" fill="none"><rect x="668.3" y="465.8" width="156.80000000000007" height="97.59999999999997" fill="#fff"/>
<path d="M668.3,477.3 h-4 M668.3,515.3 h-4 M668.3,552.5 h-4 M720.6,563.4 v2.6 M720.6,465.8 v2.4 M772.8,563.4 v2.6 M772.8,465.8 v2.4 M668.3,563.4 v5 M825.1,563.4 v5"/></g>
<g stroke="#2e2e2e" stroke-width="1.2" fill="none"><rect x="587.6" y="715.2" width="158.29999999999995" height="98.39999999999998" fill="#fff"/>
<path d="M587.6,743 h-4 M587.6,781.8 h-4 M640.4,813.6 v2.6 M640.4,715.2 v2.4 M693.1,813.6 v2.6 M693.1,715.2 v2.4 M587.6,813.6 v5 M745.9,813.6 v5"/></g>
<path d="M670.8,514 L670.8,545.8 L671.0,542.6 L671.2,548.4 L671.4,544.8 L671.6,548.9 L671.8,546.3 L672.0,551.1 L672.2,548.2 L672.4,551.6 L672.6,547.6 L672.8,549.6 L673.0,544.4 L673.2,530.1 L673.4,543.3 L673.6,545.8 L673.8,542.6 L674.0,546.9 L674.1,514 M677.0,514 L677.0,546.6 L677.2,544.8 L677.4,549.9 L677.6,545.0 L677.8,549.2 L678.0,547.1 L678.2,549.4 L678.4,514 M683.4,514 L683.4,546.7 L683.6,543.2 L683.8,546.3 L684.0,543.6 L684.2,545.5 L684.4,542.5 L684.6,547.5 L684.8,514 M695.4,514 L695.4,544.3 L695.6,539.5 L695.8,543.3 L696.0,541.1 L696.2,545.9 L696.4,541.2 L696.6,531.2 L696.8,543.2 L697.0,548.2 L697.2,527.0 L697.4,547.4 L697.6,542.2 L697.8,546.3 L698.0,532.9 L698.2,545.8 L698.4,543.2 L698.6,547.9 L698.8,545.1 L699.0,549.3 L699.2,545.1 L699.4,550.3 L699.6,548.1 L699.8,550.5 L700.0,546.5 L700.2,548.9 L700.4,544.8 L700.6,548.9 L700.8,544.7 L701.0,546.7 L701.2,544.3 L701.4,546.3 L701.6,543.6 L701.8,547.2 L702.0,544.3 L702.2,526.8 L702.4,542.9 L702.6,547.6 L702.8,542.2 L703.0,545.4 L703.2,541.6 L703.4,542.7 L703.6,539.5 L703.8,545.1 L704.0,541.2 L704.2,527.9 L704.4,541.4 L704.6,546.4 L704.8,543.2 L705.0,547.8 L705.2,544.3 L705.4,548.6 L705.6,544.1 L705.8,548.2 L706.0,544.6 L706.2,534.2 L706.4,543.7 L706.5,514 M715.3,514 L715.3,548.4 L715.5,544.2 L715.7,548.5 L715.9,544.7 L716.1,547.1 L716.3,543.2 L716.5,547.4 L716.7,542.7 L716.9,544.0 L717.1,540.0 L717.3,544.0 L717.5,539.9 L717.7,543.2 L717.9,542.3 L718.1,547.0 L718.3,542.4 L718.5,546.6 L718.7,543.7 L718.9,549.4 L719.1,545.4 L719.3,548.4 L719.5,545.0 L719.7,546.5 L719.9,530.5 L720.1,546.9 L720.3,543.6 L720.5,549.7 L720.7,544.5 L720.9,551.2 L721.1,547.6 L721.3,550.4 L721.5,546.4 L721.7,549.2 L721.9,544.9 L722.1,535.4 L722.3,544.6 L722.5,547.3 L722.7,540.7 L722.9,544.7 L723.1,541.5 L723.3,545.7 L723.5,543.2 L723.7,547.1 L723.8,514 M730.2,514 L730.2,545.7 L730.4,542.4 L730.6,544.8 L730.8,540.0 L730.9,514 M734.0,514 L734.0,547.4 L734.2,543.4 L734.4,549.1 L734.6,547.0 L734.8,531.9 L735.0,547.3 L735.2,551.1 L735.4,547.5 L735.6,549.2 L735.8,544.2 L736.0,548.9 L736.2,541.8 L736.4,545.1 L736.6,541.8 L736.8,545.4 L737.0,542.3 L737.2,545.2 L737.4,541.7 L737.6,539.6 L737.8,543.7 L738.0,546.0 L738.2,543.2 L738.4,546.7 L738.6,542.0 L738.8,545.8 L739.0,541.6 L739.2,545.5 L739.4,514 M741.3,514 L741.3,535.1 L741.5,545.3 L741.7,548.6 L741.9,525.5 L742.1,548.3 L742.3,545.7 L742.5,549.4 L742.7,546.4 L742.9,548.5 L743.1,546.8 L743.3,549.2 L743.5,544.7 L743.7,548.4 L743.9,543.5 L744.1,545.3 L744.3,540.4 L744.5,543.8 L744.7,538.8 L744.9,543.5 L745.1,539.4 L745.3,543.7 L745.5,541.5 L745.7,546.1 L745.9,543.9 L746.1,540.1 L746.3,544.7 L746.5,547.4 L746.7,541.8 L746.8,514 M759.5,514 L759.5,546.2 L759.7,544.1 L759.9,546.0 L760.1,543.8 L760.3,545.5 L760.5,542.2 L760.7,545.5 L760.9,540.9 L761.1,545.5 L761.3,541.9 L761.5,547.1 L761.7,545.4 L761.9,548.4 L762.1,546.8 L762.3,535.6 L762.5,546.8 L762.7,551.0 L762.9,545.1 L763.1,550.1 L763.3,545.3 L763.5,549.2 L763.7,543.8 L763.9,546.1 L764.1,544.4 L764.3,548.3 L764.5,543.2 L764.7,547.0 L764.9,545.0 L765.1,548.5 L765.3,544.7 L765.5,546.3 L765.7,541.9 L765.9,530.5 L766.1,539.6 L766.3,544.2 L766.5,540.6 L766.7,544.7 L766.9,540.2 L767.1,545.6 L767.3,542.2 L767.5,514 M793.8,514 L793.8,544.1 L794.0,538.8 L794.2,545.0 L794.4,540.5 L794.6,545.2 L794.8,541.7 L795.0,548.4 L795.2,544.9 L795.4,548.7 L795.6,544.2 L795.8,547.0 L796.0,542.9 L796.2,545.9 L796.4,544.4 L796.6,546.7 L796.8,543.7 L797.0,548.6 L797.2,544.3 L797.4,551.0 L797.6,546.0 L797.8,540.7 L798.0,546.7 L798.2,550.7 L798.4,546.1 L798.6,548.7 L798.8,545.1 L799.0,546.0 L799.2,541.1 L799.4,546.0 L799.6,542.3 L799.8,546.0 L800.0,543.5 L800.2,547.6 L800.4,542.9 L800.6,546.0 L800.8,541.8 L801.0,545.6 L801.2,543.1 L801.4,546.4 L801.6,539.6 L801.8,543.2 L802.0,540.7 L802.2,545.5 L802.4,540.9 L802.6,545.4 L802.8,544.8 L803.0,549.4 L803.2,533.5 L803.4,548.9 L803.6,547.3 L803.8,549.6 L804.0,545.3 L804.2,548.2 L804.4,545.2 L804.6,549.3 L804.8,545.2 L805.0,549.2 L805.2,544.6 L805.4,547.9 L805.6,546.3 L805.8,549.6 L806.0,546.5 L806.2,548.4 L806.4,545.4 L806.6,547.7 L806.8,544.0 L807.0,514 M815.0,514 L815.0,544.2 L815.2,541.1 L815.4,545.4 L815.6,539.5 L815.8,545.1 L816.0,539.8 L816.2,546.6 L816.4,542.6 L816.6,548.6 L816.8,543.8 L817.0,514 M823.0,514 L823.0,545.6 L823.2,541.9 L823.4,546.5 L823.6,543.0 L823.8,544.8 L824.0,543.4 L824.2,548.3 L824.4,544.8 L824.6,549.3 L824.8,546.3 L825.0,514 " fill="none" stroke="#0000ff" stroke-width="0.9" stroke-linejoin="round"/>
<path d="M668.3,516 L668.3,519.6 L668.6,491.5 L668.9,516.7 L669.1,490.8 L669.4,518.1 L669.7,492.6 L670.0,515.9 L670.3,491.3 L670.5,515.7 L670.8,516 M674.1,516 L674.1,515.1 L674.4,488.6 L674.7,520.3 L674.9,485.3 L675.2,516.6 L675.5,495.0 L675.8,518.9 L676.1,487.3 L676.3,515.3 L676.6,485.5 L676.9,519.4 L677.0,516 M678.4,516 L678.4,513.5 L678.7,490.0 L679.0,511.4 L679.2,486.0 L679.5,513.2 L679.8,490.2 L680.1,513.3 L680.4,489.4 L680.6,516.7 L680.9,492.7 L681.2,513.2 L681.5,487.8 L681.8,513.1 L682.0,487.0 L682.3,519.3 L682.6,485.6 L682.9,514.1 L683.2,493.4 L683.4,516 M684.8,516 L684.8,518.2 L685.1,490.6 L685.4,511.8 L685.6,485.7 L685.9,516.4 L686.2,488.3 L686.5,515.8 L686.8,492.3 L687.0,512.8 L687.3,486.7 L687.6,517.4 L687.9,488.6 L688.2,518.2 L688.4,489.4 L688.7,518.8 L689.0,490.3 L689.3,518.7 L689.6,492.9 L689.8,515.9 L690.1,490.6 L690.4,521.0 L690.7,485.8 L691.0,511.3 L691.2,491.2 L691.5,513.7 L691.8,491.6 L692.1,515.2 L692.4,489.7 L692.6,514.3 L692.9,487.2 L693.2,513.7 L693.5,486.2 L693.8,514.1 L694.0,486.7 L694.3,512.9 L694.6,485.8 L694.9,521.1 L695.2,493.7 L695.4,516 M706.5,516 L706.5,520.0 L706.8,485.6 L707.1,515.2 L707.3,491.4 L707.6,513.8 L707.9,492.0 L708.2,519.0 L708.5,493.1 L708.7,514.9 L709.0,495.0 L709.3,520.8 L709.6,489.2 L709.9,518.0 L710.1,489.4 L710.4,516.7 L710.7,488.2 L711.0,512.9 L711.3,490.1 L711.5,514.1 L711.8,492.2 L712.1,518.1 L712.4,487.4 L712.7,522.5 L712.9,489.6 L713.2,513.6 L713.5,487.7 L713.8,519.0 L714.1,490.2 L714.3,514.3 L714.6,484.2 L714.9,514.7 L715.2,488.2 L715.3,516 M723.8,516 L723.8,516.2 L724.1,487.3 L724.4,515.1 L724.6,489.8 L724.9,521.0 L725.2,492.9 L725.5,513.6 L725.8,487.4 L726.0,511.4 L726.3,487.4 L726.6,515.6 L726.9,493.7 L727.2,517.2 L727.4,486.8 L727.7,514.0 L728.0,486.4 L728.3,511.4 L728.6,490.5 L728.8,516.8 L729.1,488.7 L729.4,516.6 L729.7,493.3 L730.0,518.9 L730.2,516 M730.9,516 L730.9,522.5 L731.2,493.6 L731.5,520.4 L731.7,487.6 L732.0,517.2 L732.3,492.4 L732.6,521.5 L732.9,487.1 L733.1,519.8 L733.4,489.9 L733.7,515.5 L734.0,488.4 L734.0,516 M739.4,516 L739.4,512.3 L739.7,490.6 L740.0,519.5 L740.2,491.2 L740.5,519.3 L740.8,490.9 L741.1,513.5 L741.3,516 M746.8,516 L746.8,512.3 L747.1,489.1 L747.4,511.8 L747.6,486.0 L747.9,520.7 L748.2,487.6 L748.5,519.0 L748.8,492.5 L749.0,514.2 L749.3,493.7 L749.6,517.2 L749.9,493.4 L750.2,517.5 L750.4,486.1 L750.7,513.3 L751.0,491.2 L751.3,513.1 L751.6,487.8 L751.8,516.9 L752.1,492.1 L752.4,515.1 L752.7,485.3 L753.0,520.0 L753.2,490.6 L753.5,518.0 L753.8,493.0 L754.1,517.2 L754.4,490.3 L754.6,515.7 L754.9,491.7 L755.2,518.4 L755.5,488.3 L755.8,513.0 L756.0,494.6 L756.3,514.1 L756.6,493.3 L756.9,511.9 L757.2,486.2 L757.4,516.9 L757.7,489.1 L758.0,518.8 L758.3,492.8 L758.6,516.4 L758.8,488.3 L759.1,514.4 L759.4,495.4 L759.5,516 M767.5,516 L767.5,517.9 L767.8,492.2 L768.1,516.2 L768.3,490.5 L768.6,516.7 L768.9,490.3 L769.2,520.3 L769.5,489.3 L769.7,518.2 L770.0,493.5 L770.3,516.8 L770.6,488.2 L770.9,517.9 L771.1,491.7 L771.4,517.8 L771.7,491.3 L772.0,512.7 L772.3,486.9 L772.5,514.6 L772.8,492.3 L773.1,518.1 L773.4,490.8 L773.7,517.4 L773.9,487.3 L774.2,515.7 L774.5,489.9 L774.8,513.7 L775.1,492.2 L775.3,511.6 L775.6,486.6 L775.9,514.1 L776.2,484.9 L776.5,519.2 L776.7,491.6 L777.0,519.6 L777.3,488.7 L777.6,515.6 L777.9,486.8 L778.1,516.4 L778.4,486.2 L778.7,515.9 L779.0,484.6 L779.3,521.5 L779.5,491.1 L779.8,513.4 L780.1,486.7 L780.4,516.8 L780.7,487.0 L780.9,512.9 L781.2,489.6 L781.5,519.1 L781.8,491.2 L782.1,516.1 L782.3,490.6 L782.6,519.0 L782.9,488.4 L783.2,518.3 L783.5,488.2 L783.7,512.2 L784.0,494.3 L784.3,511.6 L784.6,487.5 L784.9,513.5 L785.1,487.5 L785.4,513.6 L785.7,490.4 L786.0,522.1 L786.3,484.8 L786.5,515.3 L786.8,495.6 L787.1,513.7 L787.4,490.0 L787.7,519.9 L787.9,489.0 L788.2,512.0 L788.5,487.5 L788.8,518.7 L789.1,490.1 L789.3,516.4 L789.6,489.7 L789.9,516.8 L790.2,485.6 L790.5,520.4 L790.7,492.5 L791.0,516.5 L791.3,488.1 L791.6,515.9 L791.9,492.0 L792.1,519.5 L792.4,491.5 L792.7,517.6 L793.0,492.9 L793.3,516.0 L793.5,484.6 L793.8,516 M807.0,516 L807.0,517.7 L807.3,489.6 L807.6,515.3 L807.8,491.4 L808.1,512.2 L808.4,488.4 L808.7,518.3 L809.0,487.7 L809.2,518.5 L809.5,485.9 L809.8,514.8 L810.1,483.5 L810.4,518.4 L810.6,486.1 L810.9,519.1 L811.2,483.9 L811.5,520.0 L811.8,488.5 L812.0,515.4 L812.3,486.5 L812.6,513.8 L812.9,490.8 L813.2,517.1 L813.4,486.3 L813.7,516.4 L814.0,488.7 L814.3,519.3 L814.6,492.5 L814.8,520.7 L815.0,516 M817.0,516 L817.0,520.6 L817.3,484.1 L817.6,521.7 L817.8,492.9 L818.1,513.1 L818.4,488.7 L818.7,518.2 L819.0,488.7 L819.2,516.8 L819.5,487.6 L819.8,521.7 L820.1,488.5 L820.4,519.2 L820.6,491.1 L820.9,520.6 L821.2,493.6 L821.5,510.9 L821.8,486.4 L822.0,517.3 L822.3,489.7 L822.6,516.7 L822.9,487.6 L823.0,516 " fill="none" stroke="#008000" stroke-width="0.9" stroke-linejoin="round"/>
<path d="M588.2,791.0 L588.4,783.9 L588.6,790.7 L588.8,781.3 L589.0,791.0 L589.2,784.3 L589.4,789.5 L589.6,785.0 L589.8,789.9 L590.0,784.0 L590.2,790.3 L590.4,784.8 L590.6,791.0 L590.8,784.7 L591.0,789.6 L591.2,784.7 L591.4,789.9 L591.6,783.9 L591.8,790.7 L592.0,785.0 L592.2,790.5 L592.4,773.0 L592.6,773.0 L592.8,786.0 L593.0,790.9 L593.2,784.9 L593.4,788.8 L593.6,784.5 L593.8,789.4 L594.0,785.6 L594.2,789.7 L594.4,784.7 L594.6,790.3 L594.8,784.0 L595.0,790.4 L595.2,785.9 L595.4,790.7 L595.6,785.5 L595.8,789.9 L596.0,785.9 L596.2,789.1 L596.4,786.2 L596.6,789.6 L596.8,784.0 L597.0,789.4 L597.2,785.9 L597.4,789.7 L597.6,785.7 L597.8,789.6 L598.0,785.7 L598.2,790.9 L598.4,784.3 L598.6,790.6 L598.8,786.0 L599.0,775.0 L599.2,784.7 L599.4,789.3 L599.6,784.1 L599.8,789.4 L600.0,785.7 L600.2,788.8 L600.4,784.9 L600.6,791.0 L600.8,785.7 L601.0,790.0 L601.2,784.7 L601.4,790.7 L601.6,785.6 L601.8,791.0 L602.0,784.6 L602.2,789.6 L602.4,784.5 L602.6,789.6 L602.8,785.5 L603.0,790.8 L603.2,785.1 L603.4,790.9 L603.6,785.5 L603.8,789.7 L604.0,776.0 L604.2,790.1 L604.4,784.9 L604.6,790.7 L604.8,784.3 L605.0,790.3 L605.2,785.1 L605.4,790.9 L605.6,784.3 L605.8,790.8 L606.0,784.6 L606.2,790.2 L606.4,786.2 L606.6,790.7 L606.8,785.8 L607.0,788.9 L607.2,783.9 L607.4,789.5 L607.6,786.2 L607.8,779.5 L608.0,786.0 L608.2,788.8 L608.4,785.0 L608.6,788.8 L608.8,786.1 L609.0,772.0 L609.2,785.5 L609.4,789.2 L609.6,785.8 L609.8,790.7 L610.0,786.3 L610.2,788.7 L610.4,785.3 L610.6,790.2 L610.8,784.9 L611.0,789.9 L611.2,785.8 L611.4,791.1 L611.6,784.0 L611.8,791.1 L612.0,785.2 L612.2,789.8 M615.0,789.1 L615.2,785.9 L615.4,790.0 L615.6,783.9 L615.8,791.0 L616.0,784.6 L616.2,788.8 L616.4,786.3 L616.6,790.4 L616.8,785.7 L617.0,789.1 L617.2,783.9 L617.4,775.0 L617.6,775.0 L617.8,790.6 L618.0,786.1 L618.2,789.0 L618.4,785.2 L618.6,790.9 L618.8,785.2 L619.0,789.0 L619.2,785.0 L619.4,789.2 L619.6,786.3 L619.8,790.4 L620.0,783.9 L620.2,790.5 L620.4,784.3 L620.6,781.1 L620.8,784.9 L621.0,779.0 L621.2,784.4 L621.4,788.8 L621.6,785.0 L621.8,789.5 L622.0,784.2 L622.2,790.2 L622.4,785.7 L622.6,789.6 L622.8,784.9 L623.0,789.1 L623.2,784.9 L623.4,790.4 L623.6,786.2 L623.8,788.8 L624.0,785.4 L624.2,790.4 L624.4,784.7 L624.6,789.8 L624.8,784.1 L625.0,788.8 L625.2,783.9 L625.4,789.6 L625.6,784.3 L625.8,790.5 L626.0,765.0 L626.2,790.6 L626.4,786.2 L626.6,791.0 L626.8,784.7 L627.0,790.2 L627.2,785.7 L627.4,788.7 L627.6,786.1 L627.8,790.4 L628.0,784.3 L628.2,789.9 L628.4,784.4 L628.6,778.6 L628.8,785.0 L629.0,789.9 L629.2,784.9 L629.4,788.8 L629.6,785.0 L629.8,779.0 L630.0,786.3 L630.2,790.7 L630.4,786.0 L630.6,789.2 L630.8,786.1 L631.0,790.0 L631.2,786.1 L631.4,790.8 L631.6,786.1 L631.8,789.4 L632.0,786.0 L632.2,791.1 L632.4,786.3 L632.6,788.9 L632.8,784.9 L633.0,789.8 L633.2,784.8 L633.4,790.9 L633.6,784.4 L633.8,790.7 L634.0,786.3 L634.2,790.8 L634.4,772.5 L634.6,772.5 L634.8,784.6 L635.0,789.4 L635.2,785.5 L635.4,789.8 L635.6,784.7 L635.8,790.5 L636.0,783.9 L636.2,789.3 L636.4,785.3 L636.6,789.2 L636.8,784.1 L637.0,790.6 L637.2,784.1 L637.4,790.0 L637.6,784.3 L637.8,790.2 L638.0,785.0 L638.2,789.1 L638.4,784.7 L638.6,791.0 L638.8,784.1 L639.0,791.0 L639.2,785.8 L639.4,781.0 L639.6,784.6 L639.8,789.1 L640.0,784.6 L640.2,790.5 L640.4,785.7 L640.6,788.7 L640.8,785.8 L641.0,791.0 L641.2,784.9 L641.4,790.1 L641.6,785.6 L641.8,780.6 L642.0,786.0 L642.2,789.9 L642.4,784.6 L642.6,790.6 L642.8,786.1 L643.0,789.7 L643.2,785.2 L643.4,788.9 L643.6,785.5 L643.8,788.7 L644.0,785.8 L644.2,790.6 L644.4,781.2 L644.6,790.9 L644.8,784.7 L645.0,790.3 L645.2,786.0 L645.4,791.1 L645.6,784.7 L645.8,789.2 L646.0,786.3 L646.2,789.0 L646.4,785.4 L646.6,789.0 L646.8,785.7 L647.0,789.9 L647.2,785.7 L647.4,789.4 L647.6,784.5 L647.8,789.1 L648.0,785.4 L648.2,790.2 L648.4,784.2 L648.6,790.3 L648.8,785.8 L649.0,789.7 L649.2,785.2 L649.4,788.9 L649.6,785.2 L649.8,789.2 L650.0,786.1 L650.2,789.5 L650.4,784.0 L650.6,788.8 L650.8,784.5 L651.0,790.8 L651.2,784.2 L651.4,772.0 L651.6,772.0 L651.8,790.8 L652.0,786.1 L652.2,790.9 L652.4,784.5 L652.6,789.8 L652.8,785.8 L653.0,789.5 L653.2,783.9 L653.4,779.4 L653.6,773.0 L653.8,789.8 L654.0,785.0 L654.2,789.9 L654.4,784.7 L654.6,790.6 L654.8,784.5 L655.0,789.6 L655.2,785.9 L655.4,790.1 L655.6,786.1 L655.8,788.7 L656.0,786.0 L656.2,790.5 L656.4,774.0 L656.6,778.2 L656.8,785.8 L657.0,789.9 L657.2,785.1 L657.4,790.2 L657.6,784.3 L657.8,791.1 L658.0,785.8 L658.2,789.5 L658.4,785.5 L658.6,788.7 L658.8,785.9 L659.0,788.7 L659.2,785.7 L659.4,790.0 L659.6,786.0 L659.8,789.0 L660.0,786.0 L660.2,789.9 L660.4,774.0 L660.6,774.0 L660.8,784.9 L661.0,789.7 L661.2,784.7 L661.4,791.0 L661.6,784.0 L661.8,788.8 L662.0,780.8 L662.2,789.4 L662.4,784.2 L662.6,790.0 L662.8,784.3 L663.0,789.9 L663.2,785.7 L663.4,790.1 L663.6,784.1 L663.8,789.1 L664.0,784.1 L664.2,789.1 L664.4,785.7 L664.6,789.6 L664.8,784.7 L665.0,790.5 L665.2,785.2 L665.4,780.1 L665.6,771.0 L665.8,790.3 L666.0,784.0 L666.2,789.2 L666.4,784.0 L666.6,789.7 L666.8,784.1 L667.0,790.5 L667.2,784.7 L667.4,789.0 L667.6,785.8 L667.8,788.7 L668.0,785.3 L668.2,788.8 L668.4,772.0 L668.6,772.0 L668.8,785.3 L669.0,779.3 L669.2,785.9 L669.4,791.0 L669.6,784.3 L669.8,790.2 L670.0,784.0 L670.2,790.6 L670.4,785.7 L670.6,790.1 L670.8,784.2 L671.0,779.9 L671.2,784.5 L671.4,781.3 L671.6,781.1 L671.8,789.3 L672.0,781.5 M681.3,788.9 L681.5,785.9 L681.7,790.6 L681.9,785.8 L682.1,790.3 L682.3,786.0 L682.5,790.1 L682.7,784.8 L682.9,789.3 L683.1,785.0 L683.3,788.7 L683.5,785.8 L683.7,790.2 L683.9,784.8 L684.1,789.2 L684.3,784.7 L684.5,789.0 L684.7,784.4 L684.9,790.4 L685.1,784.4 L685.3,789.4 L685.5,786.2 L685.7,788.9 L685.9,777.0 L686.1,777.0 L686.3,785.2 L686.5,789.0 L686.7,785.1 L686.9,790.4 L687.1,784.4 L687.3,788.8 L687.5,785.1 L687.7,790.3 L687.9,785.6 L688.1,790.4 L688.3,785.4 L688.5,791.0 L688.7,784.8 L688.9,789.8 L689.1,785.7 L689.3,791.1 L689.5,786.0 L689.7,790.2 L689.9,786.2 L690.1,790.6 L690.3,786.1 L690.5,788.9 L690.7,786.2 L690.9,790.6 L691.1,786.1 L691.3,789.1 L691.5,784.3 L691.7,789.1 L691.9,778.0 L692.1,778.0 L692.3,783.9 L692.5,789.3 L692.7,784.1 L692.9,789.8 L693.1,784.8 L693.3,789.8 L693.5,784.5 L693.7,789.1 L693.9,786.1 L694.1,789.5 L694.3,785.7 L694.5,791.1 L694.7,784.2 L694.9,789.1 L695.1,785.5 L695.3,789.7 L695.5,784.2 L695.7,788.7 L695.9,784.8 L696.1,791.0 L696.3,784.2 L696.5,789.3 L696.7,785.4 L696.9,789.6 L697.1,785.8 L697.3,789.7 L697.5,762.0 L697.7,789.3 L697.9,784.4 L698.1,790.5 L698.3,784.3 L698.5,790.3 L698.7,784.3 L698.9,790.0 L699.1,784.3 L699.3,790.7 L699.5,784.2 L699.7,791.0 L699.9,784.7 L700.1,788.8 L700.3,785.0 L700.5,789.5 L700.7,784.4 L700.9,789.2 L701.1,785.7 L701.3,789.5 L701.5,784.4 L701.7,788.8 L701.9,784.5 L702.1,789.8 L702.3,784.4 L702.5,789.4 L702.7,784.1 L702.9,790.9 L703.1,785.6 L703.3,790.1 L703.5,774.0 L703.7,789.9 L703.9,785.3 L704.1,790.3 L704.3,785.4 L704.5,791.0 L704.7,786.0 L704.9,788.7 L705.1,785.3 L705.3,789.7 L705.5,785.0 L705.7,790.6 L705.9,785.8 L706.1,790.6 L706.3,784.2 L706.5,774.0 L706.7,784.6 L706.9,789.2 L707.1,785.5 L707.3,789.1 L707.5,785.1 L707.7,789.0 L707.9,783.9 L708.1,790.6 L708.3,784.1 L708.5,790.5 L708.7,785.4 L708.9,789.2 L709.1,785.1 L709.3,790.9 L709.5,785.1 L709.7,790.0 L709.9,784.8 L710.1,789.7 L710.3,785.7 L710.5,789.7 L710.7,785.2 L710.9,777.0 L711.1,777.0 L711.3,789.2 L711.5,785.1 L711.7,790.1 L711.9,785.8 L712.1,790.4 L712.3,784.6 L712.5,789.3 L712.7,784.1 L712.9,791.0 L713.1,786.1 L713.3,790.6 L713.5,786.0 L713.7,790.2 L713.9,785.5 L714.1,789.3 L714.3,785.9 L714.5,790.2 L714.7,785.9 L714.9,788.9 L715.1,785.6 L715.3,789.1 L715.5,785.3 L715.7,789.9 L715.9,776.0 L716.1,776.0 L716.3,785.9 L716.5,790.4 L716.7,785.3 L716.9,789.7 L717.1,784.6 L717.3,789.0 L717.5,778.6 L717.7,790.5 L717.9,784.8 L718.1,789.6 L718.3,785.6 L718.5,790.3 L718.7,784.0 L718.9,789.6 L719.1,784.4 L719.3,790.3 L719.5,784.0 L719.7,789.7 L719.9,786.1 L720.1,790.6 L720.3,785.5 L720.5,789.9 L720.7,784.1 L720.9,790.0 L721.1,784.8 L721.3,789.5 L721.5,784.8 L721.7,789.3 L721.9,775.0 L722.1,775.0 L722.3,785.7 L722.5,790.7 L722.7,784.6 L722.9,789.1 L723.1,784.4 L723.3,789.2 L723.5,785.7 L723.7,790.4 L723.9,784.0 L724.1,790.9 L724.3,784.1 L724.5,789.1 L724.7,784.2 L724.9,788.9 L725.1,784.5 L725.3,791.1 L725.5,786.2 L725.7,788.7 L725.9,784.8 L726.1,789.1 L726.3,784.8 L726.5,791.1 L726.7,783.9 L726.9,789.6 L727.1,785.8 L727.3,791.1 L727.5,785.9 L727.7,789.0 L727.9,784.5 L728.1,790.0 L728.3,786.3 L728.5,790.6 L728.7,785.2 L728.9,790.1 L729.1,785.4 L729.3,790.8 L729.5,785.0 L729.7,789.1 L729.9,778.8 L730.1,790.6 L730.3,786.3 L730.5,789.7 L730.7,784.9 L730.9,789.7 L731.1,784.0 L731.3,790.2 L731.5,771.0 L731.7,790.9 L731.9,784.4 L732.1,791.1 L732.3,785.6 L732.5,789.3 L732.7,786.0 L732.9,789.9 L733.1,784.1 L733.3,791.0 L733.5,786.0 L733.7,790.1 L733.9,784.9 L734.1,791.0 L734.3,784.4 L734.5,789.3 L734.7,784.2 L734.9,790.5 L735.1,784.5 L735.3,788.9 L735.5,784.6 L735.7,790.3 L735.9,776.0 L736.1,776.0 L736.3,785.3 L736.5,790.7 L736.7,785.2 L736.9,789.6 L737.1,785.2 L737.3,790.5 L737.5,784.7 L737.7,791.1 L737.9,784.5 L738.1,790.2 L738.3,785.7 L738.5,788.7 L738.7,786.1 L738.9,790.9 L739.1,785.2 L739.3,790.4 L739.5,785.5 L739.7,789.1 L739.9,784.3 L740.1,789.1 L740.3,785.5 L740.5,791.0 L740.7,784.4 L740.9,773.0 L741.1,773.0 L741.3,791.1 L741.5,784.8 L741.7,790.8 L741.9,786.1 L742.1,790.6 L742.3,784.5 L742.5,789.8 L742.7,784.0 L742.9,774.0 L743.1,774.0 L743.3,789.1 L743.5,785.2 L743.7,789.3 L743.9,785.0 L744.1,790.1 L744.3,784.2 L744.5,791.0 L744.7,786.0 L744.9,791.0 L745.1,785.0 " fill="none" stroke="#0000ff" stroke-width="0.9" stroke-linejoin="round"/>
<path d="M612.3,786 L612.3,757.1 L612.6,727.7 L612.9,755.9 L613.2,728.6 L613.5,756.1 L613.8,728.3 L614.1,755.4 L614.4,726.8 L614.7,756.5 L615.0,727.8 L615.0,786 M672.2,786 L672.2,758.4 L672.5,723.3 L672.8,750.6 L673.1,729.6 L673.4,754.3 L673.7,729.7 L674.0,753.2 L674.3,728.2 L674.6,751.7 L674.9,732.4 L675.2,749.9 L675.5,731.3 L675.8,750.0 L676.1,726.7 L676.4,756.0 L676.7,730.3 L677.0,756.9 L677.3,725.7 L677.6,752.5 L677.9,728.0 L678.2,751.0 L678.5,723.7 L678.8,754.6 L679.1,732.4 L679.4,750.6 L679.7,726.0 L680.0,752.9 L680.3,725.8 L680.6,751.4 L680.9,725.0 L681.2,757.0 L681.3,786 " fill="none" stroke="#008000" stroke-width="0.9" stroke-linejoin="round"/>
<text transform="matrix(0.35077 0 0 0.41279 492.95 429.04)" font-family="Liberation Sans" font-weight="bold" font-size="100" fill="#000"  stroke="#000" stroke-width="2.88" stroke-linejoin="round">c</text>
<text transform="matrix(0.37857 0 0 0.42252 516.11 429.33)" font-family="Liberation Sans" font-weight="bold" font-size="100" fill="#000"  stroke="#000" stroke-width="3.50" stroke-linejoin="round">)</text>
<text transform="matrix(0.29011 0 0 0.29117 482.01 501.31)" font-family="Liberation Sans" font-weight="normal" font-size="100" fill="#000" >390</text>
<text transform="matrix(0.29074 0 0 0.29258 481.91 819.61)" font-family="Liberation Sans" font-weight="normal" font-size="100" fill="#000" >310</text>
<text transform="matrix(0.30031 0 0 0.28244 532.85 888.42)" font-family="Liberation Sans" font-weight="normal" font-size="100" fill="#000" >-5</text>
<text transform="matrix(0.25157 0 0 0.28073 999.37 888.30)" font-family="Liberation Sans" font-weight="normal" font-size="100" fill="#000" >-1</text>
<text transform="matrix(0.46486 0 0 0.38982 712.70 916.30)" font-family="Liberation Sans" font-weight="normal" font-size="100" fill="#000" >I</text>
<text transform="matrix(0.24250 0 0 0.23604 724.30 930.26)" font-family="Liberation Sans" font-weight="normal" font-size="100" fill="#000" >MTJS</text>
<text transform="matrix(0.39461 0 0 0.37534 800.53 916.01)" font-family="Liberation Sans" font-weight="normal" font-size="100" fill="#000" >(mA)</text>
<text transform="matrix(0.35776 0 0 0.33692 922.82 496.96)" font-family="Liberation Sans" font-weight="normal" font-size="100" fill="#538135" >Vortex</text>
<text transform="matrix(0.32890 0 0 0.30648 878.44 762.68)" font-family="Liberation Sans" font-weight="normal" font-size="100" fill="#0000ff" >QUP</text>
<text transform="matrix(0 -0.39662 0.41018 0 491.60 720.87)" font-family="Liberation Sans" font-weight="normal" font-size="100" fill="#000">R</text>
<text transform="matrix(0 -0.23291 0.24229 0 506.36 691.42)" font-family="Liberation Sans" font-weight="normal" font-size="100" fill="#000">MTJD</text>
<text transform="matrix(0 -0.35429 0.39249 0 491.86 617.51)" font-family="Liberation Sans" font-weight="normal" font-size="100" fill="#000">(</text>
<text transform="matrix(0 -0.42500 0.41057 0 491.60 605.43)" font-family="Liberation Serif" font-weight="normal" font-size="100" fill="#000">Ω</text>
<text transform="matrix(0 -0.35429 0.39249 0 491.86 573.37)" font-family="Liberation Sans" font-weight="normal" font-size="100" fill="#000">)</text>
<text transform="matrix(0.18220 0 0 0.16113 662.57 586.24)" font-family="Liberation Sans" font-weight="normal" font-size="100" fill="#222" >0</text>
<text transform="matrix(0.17263 0 0 0.16113 820.65 586.24)" font-family="Liberation Sans" font-weight="normal" font-size="100" fill="#222" >3</text>
<text transform="matrix(0.22079 0 0 0.20697 700.97 590.01)" font-family="Liberation Sans" font-weight="normal" font-size="100" fill="#111" >time (</text>
<text transform="matrix(0.25320 0 0 0.20697 771.30 590.01)" font-family="Liberation Sans" font-weight="normal" font-size="100" fill="#111" >s)</text>
<text transform="matrix(0.26506 0 0 0.22519 755.38 589.66)" font-family="Liberation Serif" font-weight="normal" font-size="100" fill="#111" >μ</text>
<text transform="matrix(0 -0.22996 0.21448 0 648.05 550.11)" font-family="Liberation Sans" font-weight="normal" font-size="100" fill="#111">V (arb)</text>
<text transform="matrix(0.17173 0 0 0.15689 583.11 835.24)" font-family="Liberation Sans" font-weight="normal" font-size="100" fill="#222" >0</text>
<text transform="matrix(0.16842 0 0 0.15830 741.37 834.84)" font-family="Liberation Sans" font-weight="normal" font-size="100" fill="#222" >3</text>
<text transform="matrix(0.21998 0 0 0.21984 621.67 841.74)" font-family="Liberation Sans" font-weight="normal" font-size="100" fill="#111" >time (</text>
<text transform="matrix(0.25320 0 0 0.21984 691.30 841.74)" font-family="Liberation Sans" font-weight="normal" font-size="100" fill="#111" >s)</text>
<text transform="matrix(0.26506 0 0 0.24000 675.88 841.34)" font-family="Liberation Serif" font-weight="normal" font-size="100" fill="#111" >μ</text>
<text transform="matrix(0 -0.22427 0.21448 0 573.05 802.11)" font-family="Liberation Sans" font-weight="normal" font-size="100" fill="#111">V (arb)</text>
</svg>
</body></html>
